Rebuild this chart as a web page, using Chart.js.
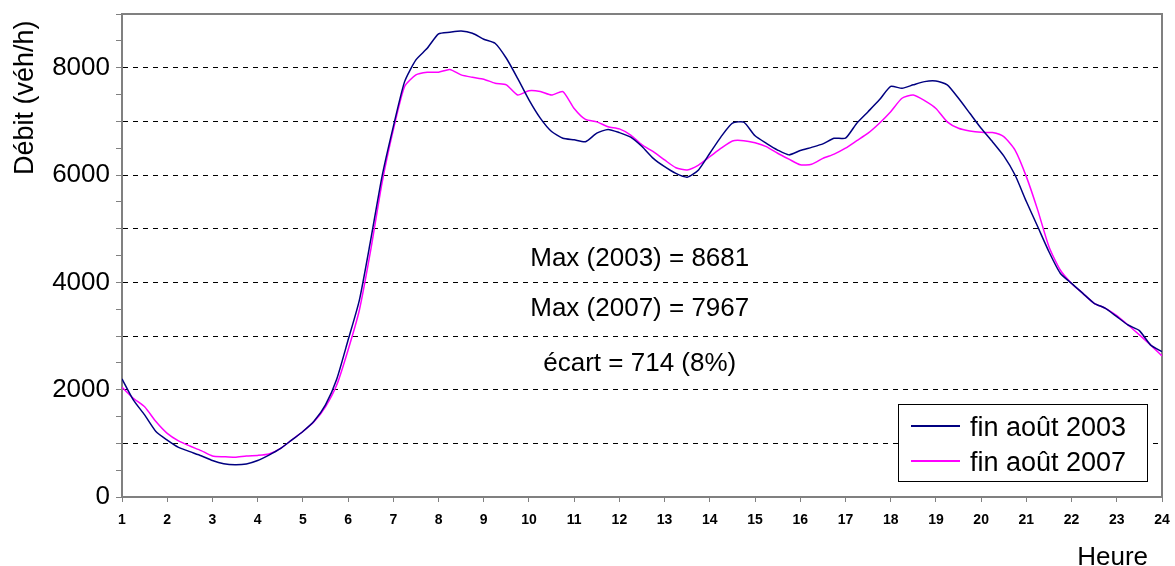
<!DOCTYPE html>
<html>
<head>
<meta charset="utf-8">
<script src="https://cdn.jsdelivr.net/npm/chart.js@4"></script>
<style>
  html, body { margin: 0; padding: 0; background: #fff; }
  #wrap { width: 1175px; height: 566px; position: relative; }
</style>
</head>
<body>
<div id="wrap"><canvas id="debitChart"></canvas></div>
<script>
// heures (pas de 15 min)
const hours = [
  1, 1.25, 1.5, 1.75, 2, 2.25, 2.5, 2.75, 3, 3.25, 3.5, 3.75,
  4, 4.25, 4.5, 4.75, 5, 5.25, 5.5, 5.75, 6, 6.25, 6.5, 6.75,
  7, 7.25, 7.5, 7.75, 8, 8.25, 8.5, 8.75, 9, 9.25, 9.5, 9.75,
  10, 10.25, 10.5, 10.75, 11, 11.25, 11.5, 11.75, 12, 12.25, 12.5, 12.75,
  13, 13.25, 13.5, 13.75, 14, 14.25, 14.5, 14.75, 15, 15.25, 15.5, 15.75,
  16, 16.25, 16.5, 16.75, 17, 17.25, 17.5, 17.75, 18, 18.25, 18.5, 18.75,
  19, 19.25, 19.5, 19.75, 20, 20.25, 20.5, 20.75, 21, 21.25, 21.5, 21.75,
  22, 22.25, 22.5, 22.75, 23, 23.25, 23.5, 23.75, 24
];

// débit fin août 2003 (véh/h)
const debit2003 = [
  2200, 1810, 1530, 1220, 1060, 925, 845, 770, 680, 620, 600, 615,
  680, 780, 900, 1060, 1220, 1415, 1715, 2200, 2925, 3670, 4790, 5970,
  6900, 7740, 8145, 8360, 8630, 8660, 8681, 8640, 8530, 8455, 8175, 7800,
  7400, 7060, 6810, 6685, 6655, 6620, 6780, 6850, 6790, 6705, 6530, 6310,
  6155, 6030, 5960, 6095, 6405, 6715, 6965, 6985, 6730, 6590, 6465, 6375,
  6455, 6515, 6580, 6685, 6685, 6965, 7180, 7400, 7650, 7615, 7680, 7740,
  7750, 7680, 7430, 7150, 6870, 6620, 6355, 6000, 5505, 5040, 4570, 4170,
  3980, 3795, 3610, 3515, 3360, 3205, 3100, 2830, 2710
];

// débit fin août 2007 (véh/h)
const debit2007 = [
  2045, 1840, 1680, 1405, 1185, 1045, 950, 865, 765, 750, 740, 765,
  775, 800, 900, 1060, 1220, 1405, 1680, 2090, 2740, 3485, 4600, 5850,
  6840, 7650, 7865, 7915, 7915, 7967, 7865, 7820, 7785, 7710, 7680, 7490,
  7570, 7555, 7490, 7555, 7240, 7035, 6990, 6900, 6860, 6745, 6560, 6435,
  6280, 6135, 6095, 6185, 6340, 6500, 6635, 6640, 6600, 6530, 6405, 6295,
  6190, 6200, 6310, 6390, 6500, 6640, 6780, 6965, 7180, 7430, 7490, 7385,
  7240, 6990, 6870, 6820, 6795, 6790, 6715, 6465, 5970, 5350, 4665, 4230,
  3980, 3795, 3610, 3515, 3380, 3205, 3020, 2830, 2630
];

const seriesLabels = ["fin août 2003", "fin août 2007"];
const notes = ["Max (2003) = 8681", "Max (2007) = 7967", "écart = 714 (8%)"];
const yTitle = "Débit (véh/h)";
const xTitle = "Heure";

const FONT = '"Liberation Sans", Arial, sans-serif';
const GRAY = "#808080";

const toPoints = (vals) => vals.map((v, i) => ({ x: hours[i], y: v }));

// cadre, textes, légende
const decor = {
    id: "decor",
    beforeDatasetsDraw(chart) {
        const { ctx, chartArea: a } = chart;
        ctx.save();
        ctx.strokeStyle = GRAY;
        ctx.lineWidth = 2;
        ctx.beginPath();
        ctx.moveTo(a.left, a.top);
        ctx.lineTo(a.right, a.top);
        ctx.lineTo(a.right, a.bottom);
        ctx.stroke();
        ctx.restore();
    },
    afterDraw(chart) {
        const { ctx, chartArea: a, scales } = chart;
        ctx.save();
        ctx.fillStyle = "#000";

        // annotations au centre
        ctx.font = "26px " + FONT;
        ctx.textAlign = "center";
        ctx.textBaseline = "alphabetic";
        const cx = scales.x.getPixelForValue(12.45);
        const baseY = [4296, 3373, 2339];
        notes.forEach((t, i) => {
            ctx.fillText(t, cx, scales.y.getPixelForValue(baseY[i]));
        });

        // titre axe X
        ctx.textAlign = "right";
        ctx.fillText(xTitle, 1148, 565);

        // titre axe Y
        ctx.save();
        ctx.translate(33, 175);
        ctx.rotate(-Math.PI / 2);
        ctx.textAlign = "left";
        ctx.font = "27px " + FONT;
        ctx.fillText(yTitle, 0, 0);
        ctx.restore();

        // légende
        const bx = a.right - 264, by = a.bottom - 93, bw = 249, bh = 77;
        ctx.fillStyle = "#fff";
        ctx.fillRect(bx, by, bw, bh);
        ctx.strokeStyle = "#000";
        ctx.lineWidth = 1;
        ctx.strokeRect(bx + 0.5, by + 0.5, bw, bh);
        ctx.font = "27px " + FONT;
        ctx.textAlign = "left";
        chart.data.datasets.forEach((ds, i) => {
            const ly = by + 22 + i * 35;
            ctx.strokeStyle = ds.borderColor;
            ctx.lineWidth = 2;
            ctx.beginPath();
            ctx.moveTo(bx + 13, ly);
            ctx.lineTo(bx + 62, ly);
            ctx.stroke();
            ctx.fillStyle = "#000";
            ctx.fillText(ds.label, bx + 72, ly + 10);
        });
        ctx.restore();
    }
};

new Chart(document.getElementById("debitChart"), {
    type: "line",
    data: {
        datasets: [
            {
                label: seriesLabels[0],
                data: toPoints(debit2003),
                borderColor: "#000080",
                borderWidth: 1.5,
                pointRadius: 0,
                tension: 0.2,
                fill: false
            },
            {
                label: seriesLabels[1],
                data: toPoints(debit2007),
                borderColor: "#ff00ff",
                borderWidth: 1.5,
                pointRadius: 0,
                tension: 0.2,
                fill: false
            }
        ]
    },
    options: {
        responsive: true,
        maintainAspectRatio: false,
        animation: false,
        layout: { padding: { top: 14, right: 13, left: 0, bottom: 0 } },
        plugins: {
            legend: { display: false },
            tooltip: { enabled: false }
        },
        scales: {
            x: {
                type: "linear",
                min: 1,
                max: 24,
                afterFit: (s) => {
                    s.height = 69;
                    s.paddingLeft = 0;
                    s.paddingRight = 0;
                },
                ticks: {
                    stepSize: 1,
                    autoSkip: false,
                    maxRotation: 0,
                    padding: 10,
                    color: "#000",
                    font: { family: FONT, size: 14, weight: "bold" }
                },
                grid: {
                    drawOnChartArea: false,
                    tickLength: 5,
                    tickColor: GRAY
                },
                border: { color: GRAY, width: 2 }
            },
            y: {
                min: 0,
                max: 9000,
                afterFit: (s) => {
                    s.width = 122;
                    s.paddingTop = 0;
                    s.paddingBottom = 0;
                },
                ticks: {
                    stepSize: 500,
                    autoSkip: false,
                    padding: 6,
                    color: "#000",
                    font: { family: FONT, size: 26 },
                    callback: (v) => (v % 2000 === 0 ? String(v) : "")
                },
                grid: {
                    color: (c) => {
                        const v = c.tick ? c.tick.value : 0;
                        return v % 1000 === 0 && v > 0 && v < 9000 ? "#000" : "rgba(0,0,0,0)";
                    },
                    lineWidth: 1,
                    tickLength: 6,
                    tickColor: GRAY,
                    tickBorderDash: []
                },
                border: { color: GRAY, width: 2, dash: [5, 5] }
            }
        }
    },
    plugins: [decor]
});
</script>
</body>
</html>
